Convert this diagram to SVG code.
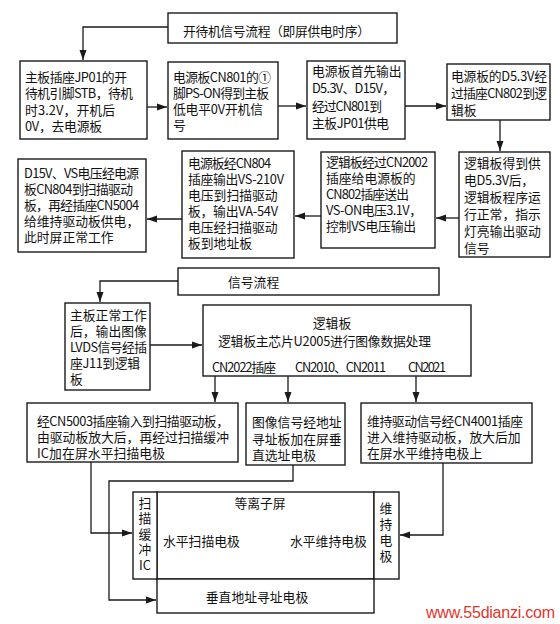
<svg xmlns="http://www.w3.org/2000/svg" width="560" height="624" viewBox="0 0 560 624">
<style>
.b{fill:#fff;stroke:#1a1a1a;stroke-width:1.4}
.t{font-family:"Noto Sans CJK SC","Noto Sans",sans-serif;font-size:12.8px;fill:#111}
.c{fill:none;stroke:#1a1a1a;stroke-width:1.3}
.m{text-anchor:middle}
.w{font-family:"Liberation Sans",Arial,sans-serif;font-size:16px;fill:#e3342b}
</style>
<defs>
<marker id="ah" markerUnits="userSpaceOnUse" markerWidth="11" markerHeight="8" refX="10" refY="4" orient="auto">
<path d="M0,0.5 L10,4 L0,7.5 z" fill="#1a1a1a"/>
</marker>
</defs>
<rect width="560" height="624" fill="#fff"/>

<g id="connectors">
<polyline class="c" points="168,27 83,27 83,60" marker-end="url(#ah)"/>
<line class="c" x1="147" y1="107" x2="167" y2="107" marker-end="url(#ah)"/>
<line class="c" x1="278" y1="106" x2="306" y2="106" marker-end="url(#ah)"/>
<line class="c" x1="405" y1="106" x2="446" y2="106" marker-end="url(#ah)"/>
<line class="c" x1="500" y1="120" x2="500" y2="151" marker-end="url(#ah)"/>
<line class="c" x1="459" y1="218" x2="436" y2="218" marker-end="url(#ah)"/>
<line class="c" x1="321" y1="216" x2="295" y2="216" marker-end="url(#ah)"/>
<line class="c" x1="182" y1="219" x2="147" y2="219" marker-end="url(#ah)"/>
<polyline class="c" points="178,281 100,281 100,302" marker-end="url(#ah)"/>
<line class="c" x1="150" y1="345" x2="202" y2="345" marker-end="url(#ah)"/>
<line class="c" x1="215" y1="376" x2="215" y2="402" marker-end="url(#ah)"/>
<line class="c" x1="288" y1="376" x2="288" y2="402" marker-end="url(#ah)"/>
<line class="c" x1="416" y1="376" x2="416" y2="402" marker-end="url(#ah)"/>
<polyline class="c" points="91,462 91,533 132,533" marker-end="url(#ah)"/>
<polyline class="c" points="293,465 293,481 109,481 109,600 156,600" marker-end="url(#ah)"/>
<polyline class="c" points="443,463 443,535 400,535" marker-end="url(#ah)"/>
</g>

<g id="title">
<rect class="b" x="168" y="13" width="229" height="30"/>
<text class="t" x="183" y="36" textLength="187">开待机信号流程（即屏供电时序）</text>
</g>

<g id="n1">
<rect class="b" x="20" y="61" width="127" height="78"/>
<text class="t"><tspan x="25" y="82" textLength="102">主板插座JP01的开</tspan><tspan x="25" y="98" textLength="108">待机引脚STB，待机</tspan><tspan x="25" y="115" textLength="90">时3.2V，开机后</tspan><tspan x="25" y="131" textLength="77">0V，去电源板</tspan></text>
</g>

<g id="n2">
<rect class="b" x="168" y="62" width="110" height="77"/>
<text class="t"><tspan x="173" y="82" textLength="98">电源板CN801的①</tspan><tspan x="173" y="98" textLength="96">脚PS-ON得到主板</tspan><tspan x="173" y="114" textLength="90">低电平0V开机信</tspan><tspan x="173" y="130">号</tspan></text>
</g>

<g id="n3">
<rect class="b" x="307" y="61" width="98" height="78"/>
<text class="t"><tspan x="312" y="76">电源板首先输出</tspan><tspan x="312" y="93" textLength="83">D5.3V、D15V，</tspan><tspan x="312" y="111" textLength="70">经过CN801到</tspan><tspan x="312" y="128" textLength="77">主板JP01供电</tspan></text>
</g>

<g id="n4">
<rect class="b" x="447" y="64" width="103" height="56"/>
<text class="t"><tspan x="451" y="81" textLength="96">电源板的D5.3V经</tspan><tspan x="451" y="98" textLength="96">过插座CN802到逻</tspan><tspan x="451" y="115">辑板</tspan></text>
</g>

<g id="n5">
<rect class="b" x="459" y="152" width="91" height="105"/>
<text class="t"><tspan x="464" y="168">逻辑板得到供</tspan><tspan x="464" y="185" textLength="70">电D5.3V后，</tspan><tspan x="464" y="202">逻辑板程序运</tspan><tspan x="464" y="219">行正常，指示</tspan><tspan x="464" y="236">灯亮输出驱动</tspan><tspan x="464" y="253">信号</tspan></text>
</g>

<g id="n6">
<rect class="b" x="321" y="152" width="114" height="96"/>
<text class="t"><tspan x="326" y="167" textLength="102">逻辑板经过CN2002</tspan><tspan x="326" y="183">插座给电源板的</tspan><tspan x="326" y="199" textLength="83">CN802插座送出</tspan><tspan x="326" y="215" textLength="96">VS-ON电压3.1V，</tspan><tspan x="326" y="231" textLength="90">控制VS电压输出</tspan></text>
</g>

<g id="n7">
<rect class="b" x="182" y="151" width="112" height="107"/>
<text class="t"><tspan x="188" y="168" textLength="83">电源板经CN804</tspan><tspan x="188" y="184" textLength="96">插座输出VS-210V</tspan><tspan x="188" y="200">电压到扫描驱动</tspan><tspan x="188" y="216" textLength="90">板，输出VA-54V</tspan><tspan x="188" y="232">电压经扫描驱动</tspan><tspan x="188" y="248">板到地址板</tspan></text>
</g>

<g id="n8">
<rect class="b" x="18" y="159" width="128" height="93"/>
<text class="t"><tspan x="24" y="178" textLength="115">D15V、VS电压经电源</tspan><tspan x="24" y="194" textLength="109">板CN804到扫描驱动</tspan><tspan x="24" y="210" textLength="115">板，再经插座CN5004</tspan><tspan x="24" y="226">给维持驱动板供电，</tspan><tspan x="24" y="242">此时屏正常工作</tspan></text>
</g>

<g id="signal">
<rect class="b" x="178" y="268" width="261" height="27"/>
<text class="t" x="228" y="287">信号流程</text>
</g>

<g id="n9">
<rect class="b" x="65" y="303" width="85" height="87"/>
<text class="t"><tspan x="70" y="320">主板正常工作</tspan><tspan x="70" y="336">后，输出图像</tspan><tspan x="70" y="352" textLength="77">LVDS信号经插</tspan><tspan x="70" y="368" textLength="70">座J11到逻辑</tspan><tspan x="70" y="384">板</tspan></text>
</g>

<g id="n10">
<rect class="b" x="203" y="305" width="268" height="71"/>
<text class="t m" x="332" y="328">逻辑板</text>
<text class="t" x="218" y="346" textLength="213">逻辑板主芯片U2005进行图像数据处理</text>
<text class="t" x="212" y="372" textLength="64">CN2022插座</text>
<text class="t" x="295" y="372" textLength="91">CN2010、CN2011</text>
<text class="t" x="408" y="372" textLength="38">CN2021</text>
</g>

<g id="n11">
<rect class="b" x="27" y="403" width="211" height="59"/>
<text class="t"><tspan x="37" y="426" textLength="192">经CN5003插座输入到扫描驱动板，</tspan><tspan x="37" y="442">由驱动板放大后，再经过扫描缓冲</tspan><tspan x="37" y="458" textLength="128">IC加在屏水平扫描电极</tspan></text>
</g>

<g id="n12">
<rect class="b" x="246" y="403" width="99" height="62"/>
<text class="t"><tspan x="252" y="427">图像信号经地址</tspan><tspan x="252" y="444">寻址板加在屏垂</tspan><tspan x="252" y="460">直选址电极</tspan></text>
</g>

<g id="n13">
<rect class="b" x="361" y="403" width="171" height="60"/>
<text class="t"><tspan x="367" y="426" textLength="156">维持驱动信号经CN4001插座</tspan><tspan x="367" y="442">进入维持驱动板，放大后加</tspan><tspan x="367" y="458">在屏水平维持电极上</tspan></text>
</g>

<g id="panel">
<rect class="b" x="157" y="492" width="217" height="87"/>
<text class="t m" x="260" y="508">等离子屏</text>
<text class="t" x="163" y="546">水平扫描电极</text>
<text class="t" x="290" y="546">水平维持电极</text>
</g>

<g id="scanbuf">
<rect class="b" x="133" y="492" width="24" height="87"/>
<text class="t m"><tspan x="145" y="508">扫</tspan><tspan x="145" y="523">描</tspan><tspan x="145" y="539">缓</tspan><tspan x="145" y="554">冲</tspan><tspan x="145" y="570">IC</tspan></text>
</g>

<g id="sustain">
<rect class="b" x="374" y="492" width="25" height="87"/>
<text class="t m"><tspan x="386" y="513">维</tspan><tspan x="386" y="529">持</tspan><tspan x="386" y="545">电</tspan><tspan x="386" y="561">极</tspan></text>
</g>

<g id="address">
<rect class="b" x="157" y="579" width="217" height="34"/>
<text class="t m" x="257" y="602">垂直地址寻址电极</text>
</g>

<text class="w" x="426" y="618" textLength="129">www.55dianzi.com</text>
</svg>
